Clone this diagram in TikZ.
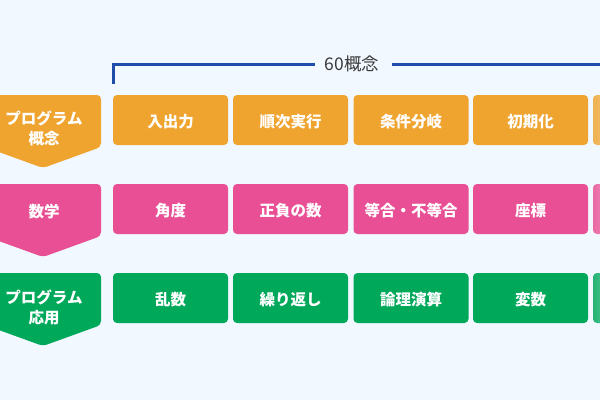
\documentclass[tikz,border=0pt]{standalone}
\usepackage{fontspec}
\setmainfont{Noto Sans CJK JP}
\definecolor{bg}{HTML}{F2F8FF}
\definecolor{cOr}{HTML}{F0A430}
\definecolor{cPk}{HTML}{E94F94}
\definecolor{cGr}{HTML}{00A85A}
\definecolor{cLine}{HTML}{1F4CA8}
\definecolor{cTxt}{HTML}{3A3A3A}
\begin{document}
\begin{tikzpicture}[x=1pt,y=-1pt,
  boxshape/.style={rounded corners=4pt},
  lbl/.style={text=white,font=\fontsize{15.5}{20}\selectfont\bfseries,align=center,inner sep=0pt},
  bracketline/.style={draw=cLine,line width=3pt}
]
\fill[bg] (0,0) rectangle (600,400);
\useasboundingbox (0,0) rectangle (600,400);

% bracket
\node[inner sep=0pt,text=cTxt,font=\fontsize{17.5}{20}\selectfont] (cnt) at (352,64) {60概念};
\coordinate (bkb) at (113.5,84);
\coordinate (bke) at (610,64);
\draw[bracketline] (bkb) |- ([xshift=-10pt]cnt.west);
\draw[bracketline] ([xshift=13pt]cnt.east) -- (bke);

% rows
\foreach \r/\top/\col/\ty [count=\i] in {1/95/cOr/128, 2/184/cPk/212, 3/273/cGr/307}{
  \fill[\col,boxshape] (-15,\top) -- (101,\top) -- (101,\top+52) -- (43,\top+73) -- (-15,\top+52) -- cycle;
  \foreach \x [count=\j] in {113,233,353.5,473}{
    \fill[\col,boxshape] (\x,\top) rectangle ++(115,50);
  }
  \shade[boxshape,left color=\col!85!bg,right color=\col!45!bg] (593,\top) rectangle ++(30,50);
}

% labels
\node[lbl] (h1) at (44,128) {プログラム\\概念};
\node[lbl] (h2) at (44,212) {数学};
\node[lbl] (h3) at (44,307) {プログラム\\応用};

\node[lbl] (a1) at (170.5,122) {入出力};
\node[lbl] (a2) at (290.5,122) {順次実行};
\node[lbl] (a3) at (411,122) {条件分岐};
\node[lbl] (a4) at (530.5,122) {初期化};

\node[lbl] (b1) at (170.5,211) {角度};
\node[lbl] (b2) at (290.5,211) {正負の数};
\node[lbl] (b3) at (411,211) {等合・不等合};
\node[lbl] (b4) at (530.5,211) {座標};

\node[lbl] (c1) at (170.5,300) {乱数};
\node[lbl] (c2) at (290.5,300) {繰り返し};
\node[lbl] (c3) at (411,300) {論理演算};
\node[lbl] (c4) at (530.5,300) {変数};
\end{tikzpicture}
\end{document}
